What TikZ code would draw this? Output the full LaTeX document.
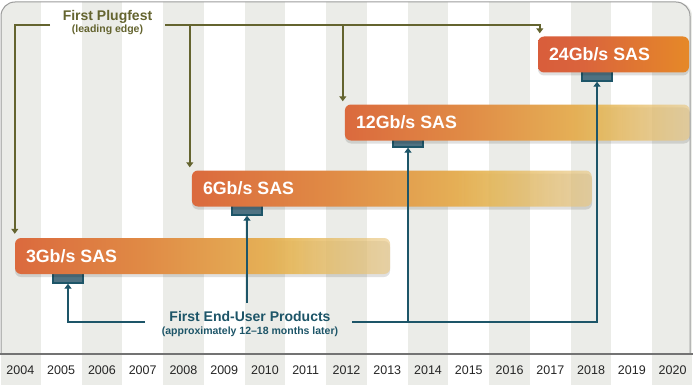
\documentclass[tikz,border=0pt]{standalone}
\usepackage{fontspec}
\setmainfont{Liberation Sans}
\usetikzlibrary{arrows.meta, positioning, calc, fadings, shadows}

\definecolor{plugolive}{HTML}{64642F}
\definecolor{userteal}{HTML}{1D5568}
\definecolor{tabfill}{HTML}{4F7282}
\definecolor{stripegray}{HTML}{EBECE8}
\definecolor{framegray}{HTML}{9B9B9B}
\definecolor{barred}{HTML}{D6523A}
\definecolor{barredorange}{HTML}{DA643C}
\definecolor{barorange}{HTML}{E08A45}
\definecolor{bargold}{HTML}{E6B85A}
\definecolor{barpale}{HTML}{EEE6D4}
\definecolor{baramber}{HTML}{EEA31A}

% bar colours and the fade at the right end
\pgfdeclarehorizontalshading{sasfade}{100bp}{color(0bp)=(barred); color(22bp)=(barredorange); color(42bp)=(barorange); color(62bp)=(bargold); color(100bp)=(barpale)}
\pgfdeclarehorizontalshading{sasfull}{100bp}{color(0bp)=(barred); color(40bp)=(barredorange); color(100bp)=(baramber)}
\pgfdeclarehorizontalshading{sasmask}{100bp}{color(0bp)=(white); color(58bp)=(white); color(100bp)=(black!88)}
\pgfdeclarefading{sasfademask}{\pgfuseshading{sasmask}}

\begin{document}
\begin{tikzpicture}[x=1pt, y=-1pt,
   year/.style = {font=\fontsize{12.5}{14}\selectfont, text=black!85},
   sasbar/.style = {rounded corners=6pt, minimum height=36pt, inner sep=0pt, shading=sasfull,
      drop shadow={shadow xshift=0pt, shadow yshift=-3pt, opacity=0.12, fill=black}},
   fadebar/.style = {sasbar, shading=sasfade, path fading=sasfademask},
   sastext/.style = {font=\bfseries\fontsize{17.8}{20}\selectfont, text=white, anchor=west, inner sep=0pt},
   sastab/.style = {draw=userteal, line width=1.4pt, fill=tabfill, minimum width=30pt, minimum height=12pt, inner sep=0pt},
   plugarrow/.style = {plugolive, line width=1.6pt, -{Triangle[width=7pt,length=5pt]}},
   userarrow/.style = {userteal, line width=1.6pt, -{Triangle[width=7pt,length=5pt]}}]
   \useasboundingbox (0,0) rectangle (693,385);

   % year columns
   \begin{scope}
      \clip[rounded corners=14pt] (1,2) rectangle (692,430);
      \foreach \i in {0,2,...,16}
         \fill[stripegray] (40.765*\i,0) rectangle ++(40.765,385);
   \end{scope}
   \draw[framegray, line width=1pt, rounded corners=14pt] (1,354) -- (1,2) -- (690,2) -- (690,354);
   \draw[black!55, line width=1.6pt] (0,354) -- (693,354);
   \foreach \y [count=\i from 0] in {2004,...,2020}
      \node[year] (yr\y) at (40.765*\i+20.38,370) {\y};

   % tabs under the bars
   \node[sastab] (tab3)  at (68,277)  {};
   \node[sastab] (tab6)  at (247,209) {};
   \node[sastab] (tab12) at (408,141) {};
   \node[sastab] (tab24) at (597,75)  {};

   % bars
   \node[fadebar, minimum width=375pt] (sas3)  at (202.5,256) {};
   \node[fadebar, minimum width=400pt] (sas6)  at (392,188.5) {};
   \node[fadebar, minimum width=345pt] (sas12) at (517.5,122.5) {};
   \node[sasbar,  minimum width=151pt] (sas24) at (613.5,54.5) {};
   \node[sastext] (sas3t)  at ([xshift=11pt]sas3.west)  {3Gb/s SAS};
   \node[sastext] (sas6t)  at ([xshift=11pt]sas6.west)  {6Gb/s SAS};
   \node[sastext] (sas12t) at ([xshift=11pt]sas12.west) {12Gb/s SAS};
   \node[sastext] (sas24t) at ([xshift=11pt]sas24.west) {24Gb/s SAS};

   % first plugfest
   \node[text=plugolive, align=center, font=\bfseries\fontsize{14}{13}\selectfont] (plug) at (107.5,23)
      {First Plugfest\\[-1pt]{\fontsize{10.5}{12}\selectfont(leading edge)}};
   \coordinate (pl) at (50,25);
   \coordinate (pr) at (165,25);
   \draw[plugarrow, shorten >=4pt] (pl) -| (sas3.north west);
   \draw[plugarrow, shorten >=3pt] (pr) -| ([xshift=2pt]sas24.north west);
   \draw[plugarrow, shorten >=3pt] (pr -| sas6.north west) ++(-2,0) -- ([xshift=-2pt]sas6.north west);
   \draw[plugarrow, shorten >=3pt] (pr -| sas12.north west) ++(-2,0) -- ([xshift=-2pt]sas12.north west);

   % first end-user products
   \node[text=userteal, align=center, font=\bfseries\fontsize{14}{13}\selectfont] (user) at (250,324)
      {First End-User Products\\[0pt]{\fontsize{10.5}{12}\selectfont(approximately 12--18 months later)}};
   \coordinate (ul) at (145,322);
   \coordinate (ur) at (352,322);
   \coordinate (um) at (247,303);
   \draw[userarrow] (ul) -| (tab3.south);
   \draw[userarrow] (um) -- (tab6.south);
   \draw[userarrow] (ur) -| (tab24.south);
   \draw[userarrow] (tab12.south |- ur) -- (tab12.south);

\end{tikzpicture}
\end{document}
